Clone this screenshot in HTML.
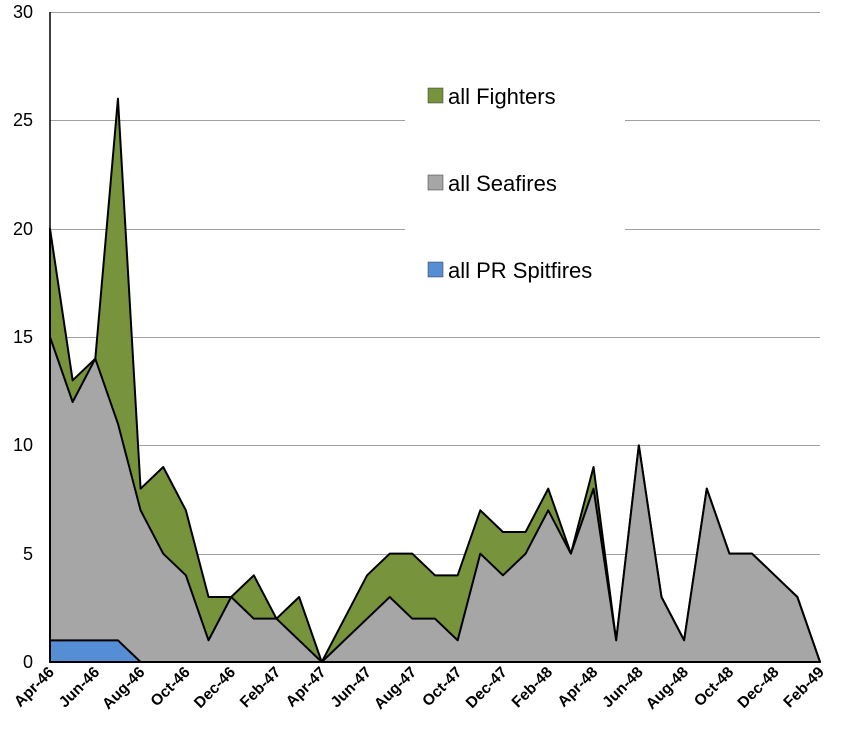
<!DOCTYPE html>
<html><head><meta charset="utf-8"><style>body{margin:0;background:#fff}svg{display:block;font-family:"Liberation Sans",sans-serif}</style></head><body>
<svg width="845" height="735" viewBox="0 0 845 735" xmlns="http://www.w3.org/2000/svg">
<g stroke="#a0a0a0" stroke-width="1">
<line x1="50" y1="12.5" x2="820" y2="12.5"/><line x1="50" y1="120.5" x2="820" y2="120.5"/><line x1="50" y1="229.5" x2="820" y2="229.5"/><line x1="50" y1="337.5" x2="820" y2="337.5"/><line x1="50" y1="445.5" x2="820" y2="445.5"/><line x1="50" y1="554.5" x2="820" y2="554.5"/>
</g>
<g font-size="18" text-anchor="end" fill="#000">
<text x="33" y="18">30</text><text x="33" y="126">25</text><text x="33" y="235">20</text><text x="33" y="343">15</text><text x="33" y="451">10</text><text x="33" y="560">5</text><text x="33" y="668">0</text>
</g>
<g id="chart"></g>
<rect x="405" y="68" width="220" height="222" fill="#fff"/>
<rect x="428" y="88" width="15" height="15" fill="#77933c" stroke="#333" stroke-width="0.5"/>
<text x="448" y="104" font-size="22">all Fighters</text>
<rect x="428" y="175" width="15" height="15" fill="#a6a6a6" stroke="#333" stroke-width="0.5"/>
<text x="448" y="191" font-size="22">all Seafires</text>
<rect x="428" y="262" width="15" height="15" fill="#558ed5" stroke="#333" stroke-width="0.5"/>
<text x="448" y="278" font-size="22">all PR Spitfires</text>
<g id="xl" font-size="15.5" font-weight="bold" text-anchor="end"></g>
</svg>
<script>
var tot=[20,13,14,26,8,9,7,3,3,4,2,3,0,2,4,5,5,4,4,7,6,6,8,5,9,1,10,3,1,8,5,5,4,3,0];
var sea=[15,12,14,11,7,5,4,1,3,2,2,1,0,1,2,3,2,2,1,5,4,5,7,5,8,1,10,3,1,8,5,5,4,3,0];
var pr=[1,1,1,1,0];
function X(i){return 50+i*770/34}function Y(v){return 662-v*650/30}
function area(d,col){var p="M"+X(0)+","+Y(0);for(var i=0;i<d.length;i++)p+=" L"+X(i)+","+Y(d[i]);p+=" L"+X(d.length-1)+","+Y(0)+"Z";return '<path d="'+p+'" fill="'+col+'" stroke="#000" stroke-width="2" stroke-linejoin="round"/>';}
var s=area(tot,"#77933c")+area(sea,"#a6a6a6")+area(pr,"#558ed5");
s+='<line x1="50" y1="12" x2="50" y2="662" stroke="#000" stroke-width="1.5"/><line x1="50" y1="662" x2="820" y2="662" stroke="#000" stroke-width="1.5"/>';
document.getElementById("chart").innerHTML=s;
var m=["Apr-46","Jun-46","Aug-46","Oct-46","Dec-46","Feb-47","Apr-47","Jun-47","Aug-47","Oct-47","Dec-47","Feb-48","Apr-48","Jun-48","Aug-48","Oct-48","Dec-48","Feb-49"];
var t="";for(var k=0;k<m.length;k++){var x=X(2*k)+5,y=673;t+='<text transform="translate('+x+','+y+') rotate(-45)">'+m[k]+'</text>';}
document.getElementById("xl").innerHTML=t;
</script>
</body></html>
